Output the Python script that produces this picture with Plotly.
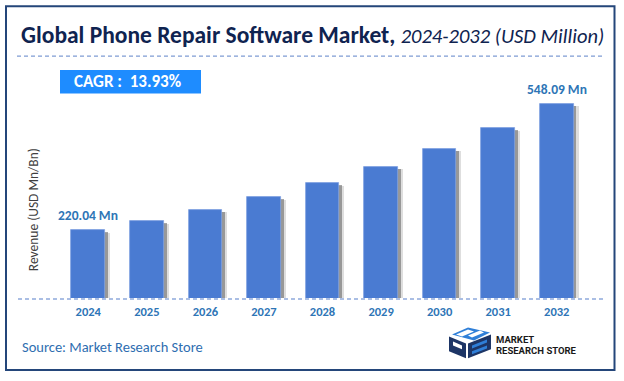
import plotly.graph_objects as go

# ---------------- data ----------------
years = ["2024", "2025", "2026", "2027", "2028", "2029", "2030", "2031", "2032"]
revenue = [220.04, 243.4, 272.9, 305.5, 341.8, 384.2, 431.6, 485.2, 548.09]
label_idx = [0, 8]
label_text = ["220.04 Mn", "548.09 Mn"]
title_main = "Global Phone Repair Software Market,"
title_sub = "2024-2032 (USD Million)"
cagr_text = "CAGR :&nbsp; 13.93%"
y_title = "Revenue (USD Mn/Bn)"
source_text = "Source: Market Research Store"

# ---------------- geometry ----------------
W, H = 624, 381
ML, MR, MT, MB = 59, 38, 95, 82.5
PW, PH = W - ML - MR, H - MT - MB

def px(x):
    return (x - ML) / PW

def py(y):
    return (H - MB - y) / PH

FONT = "Carlito, Lato, 'Open Sans', sans-serif"
BAR = "#4A7BD2"
LBL = "#2E75B6"

fig = go.Figure()

bw = 0.575
# soft shadow
fig.add_trace(go.Bar(x=years, y=[v - 6 for v in revenue], width=bw, offset=-bw / 2 + 0.085,
                     marker=dict(color="rgba(160,160,160,0.35)", line=dict(width=0)),
                     hoverinfo="skip", showlegend=False))
fig.add_trace(go.Bar(x=years, y=[v - 5 for v in revenue], width=bw, offset=-bw / 2 + 0.05,
                     marker=dict(color="rgba(95,95,95,0.55)", line=dict(width=0)),
                     hoverinfo="skip", showlegend=False))
fig.add_trace(go.Bar(x=years, y=revenue, width=bw, offset=-bw / 2,
                     marker=dict(color=BAR, line=dict(color="#7FA0E0", width=0.8)),
                     showlegend=False))

for i, t in zip(label_idx, label_text):
    fig.add_annotation(x=i, y=revenue[i], text=f"<b>{t}</b>", showarrow=False,
                       xref="x", yref="y", xanchor="center", yanchor="bottom", yshift=4,
                       font=dict(family=FONT, size=13.5, color=LBL))

shapes = []
# outer border
shapes.append(dict(type="rect", xref="paper", yref="paper",
                   x0=px(6), x1=px(614.5), y0=py(6), y1=py(370.7),
                   line=dict(color="#24467A", width=2), fillcolor="rgba(0,0,0,0)", layer="below"))
# dashed line under title
shapes.append(dict(type="line", xref="paper", yref="paper",
                   x0=px(17), x1=px(602), y0=py(56), y1=py(56),
                   line=dict(color="#7F9CD3", width=1.2, dash="4px,3px")))
# dashed baseline
shapes.append(dict(type="line", xref="paper", yref="paper",
                   x0=px(18), x1=px(603), y0=py(299.5), y1=py(299.5),
                   line=dict(color="#8EA9DB", width=1.5, dash="4px,3px")))
# CAGR box
shapes.append(dict(type="rect", xref="paper", yref="paper",
                   x0=px(60), x1=px(201), y0=py(70), y1=py(93.5),
                   line=dict(width=0), fillcolor="#1E8CFF"))

# logo icon (approximation)
def poly(pts, color):
    d = "M " + " L ".join(f"{px(x)},{py(y)}" for x, y in pts) + " Z"
    return dict(type="path", xref="paper", yref="paper", path=d,
                fillcolor=color, line=dict(width=0))

NAVY = "#1D3566"
BLUE = "#2F7FD8"
shapes += [
    poly([(452, 335), (468, 328), (490, 333), (474, 341)], BLUE),
    poly([(456, 335), (468, 330), (474, 332), (462, 337)], "#FFFFFF"),
    poly([(468, 336), (480, 331), (484, 333), (472, 338)], "#FFFFFF"),
    poly([(449, 337), (466, 344), (466, 359), (449, 352)], NAVY),
    poly([(453, 342), (462, 346), (462, 350), (453, 346)], "#FFFFFF"),
    poly([(468, 344), (491, 335), (491, 350), (468, 359)], NAVY),
    poly([(472, 346), (487, 340), (487, 343), (472, 349)], BLUE),
    poly([(472, 352), (487, 346), (487, 349), (472, 355)], BLUE),
]

fig.update_layout(shapes=shapes)

# title
fig.add_annotation(xref="paper", yref="paper", x=px(312), y=py(35), showarrow=False,
                   xanchor="center", yanchor="middle",
                   text=(f"<b>{title_main}</b> "
                         f"<span style='font-size:20.5px'><i>{title_sub}</i></span>"),
                   font=dict(family=FONT, size=23.5, color="#0F2350"))
# CAGR text
fig.add_annotation(xref="paper", yref="paper", x=px(127), y=py(81.5), showarrow=False,
                   xanchor="center", yanchor="middle", text=f"<b>{cagr_text}</b>",
                   font=dict(family=FONT, size=17, color="#FFFFFF"))
# y-axis title
fig.add_annotation(xref="paper", yref="paper", x=px(33), y=py(210.5), showarrow=False,
                   xanchor="center", yanchor="middle", textangle=-90, text=y_title,
                   font=dict(family=FONT, size=13.5, color="#404040"))
# source
fig.add_annotation(xref="paper", yref="paper", x=px(20), y=py(347.5), showarrow=False,
                   xanchor="left", yanchor="middle", text=source_text,
                   font=dict(family=FONT, size=14.5, color="#2E6DB0"))
# logo text
fig.add_annotation(xref="paper", yref="paper", x=px(494), y=py(340.5), showarrow=False,
                   xanchor="left", yanchor="middle", text="<b>MARKET</b>",
                   font=dict(family="Roboto, sans-serif", size=9.5, color="#1A1A1A"))
fig.add_annotation(xref="paper", yref="paper", x=px(494), y=py(351), showarrow=False,
                   xanchor="left", yanchor="middle", text="<b>RESEARCH STORE</b>",
                   font=dict(family="Roboto, sans-serif", size=9.5, color="#1A1A1A"))

fig.update_layout(
    width=W, height=H,
    margin=dict(l=ML, r=MR, t=MT, b=MB, pad=0),
    paper_bgcolor="white", plot_bgcolor="white",
    barmode="overlay", bargap=0,
    font=dict(family=FONT),
    xaxis=dict(type="category", range=[-0.5, 8.5], showgrid=False, zeroline=False,
               showline=False, ticks="", ticklabelstandoff=4,
               tickfont=dict(family=FONT, size=12.5, color=LBL, weight="bold")),
    yaxis=dict(range=[44.5, 571.4], showgrid=False, zeroline=False, showline=False,
               showticklabels=False, ticks=""),
)

fig.write_html("out.html", config={"displayModeBar": False},
               post_script="document.body.style.margin='0';document.body.style.overflow='hidden';")
